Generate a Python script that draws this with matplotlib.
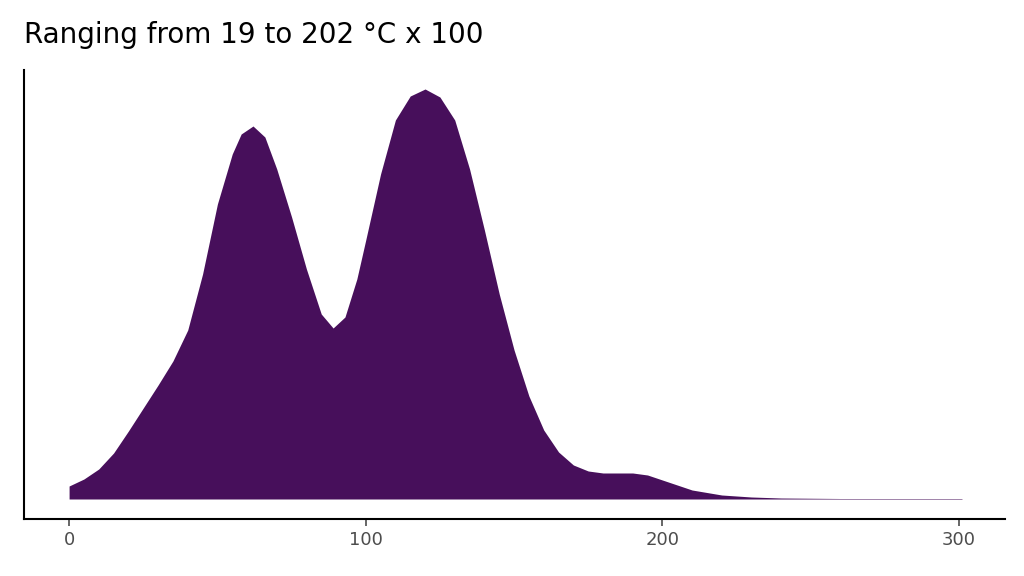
import matplotlib
matplotlib.use("Agg")
import matplotlib.pyplot as plt

x = [0, 5, 10, 15, 20, 25, 30, 35, 40, 45, 50, 55, 58, 62, 66, 70, 75, 80, 85, 89, 93, 97, 100, 105, 110, 115, 120, 125, 130, 135, 140, 145, 150, 155, 160, 165, 170, 175, 180, 190, 195, 200, 205, 210, 220, 230, 240, 260, 280, 301]
y = [13, 20, 30, 46, 68, 91, 114, 138, 169, 225, 295, 345, 365, 373, 362, 330, 282, 230, 185, 171, 182, 220, 259, 325, 379, 403, 410, 402, 379, 330, 269, 205, 149, 103, 69, 47, 34, 28, 26, 26, 24, 19, 14, 9, 4, 2, 1, 0.5, 0.5, 0.5]
xticks = [0, 100, 200, 300]

fig = plt.figure(figsize=(10.24, 5.76), dpi=100)
ax = fig.add_axes([24/1024, 57/576, 981/1024, 449/576])
ax.fill_between(x, 0, y, color='#470F5B', linewidth=0)
ax.set_xlim(-15.2, 315.5)
ax.set_ylim(-20, 429)
ax.set_xticks(xticks)
ax.set_xticklabels([str(t) for t in xticks], fontsize=13, color='#4D4D4D')
ax.set_yticks([])
ax.tick_params(axis='x', length=5, width=1.2, colors='#4D4D4D', labelcolor='#4D4D4D')
for s in ['top', 'right']:
    ax.spines[s].set_visible(False)
for s in ['left', 'bottom']:
    ax.spines[s].set_linewidth(1.5)
fig.text(24/1024, 1 - 35/576, "Ranging from 19 to 202 °C x 100", fontsize=20, va='center', ha='left')
fig.savefig("out.png", dpi=100)
